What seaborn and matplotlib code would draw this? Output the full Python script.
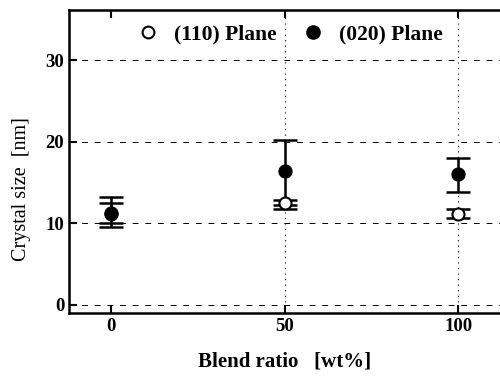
import matplotlib
matplotlib.use("Agg")
import matplotlib.pyplot as plt
import seaborn as sns
import pandas as pd
from matplotlib.lines import Line2D

blend = [0, 50, 100]
plane110 = [11.2, 12.5, 11.2]
plane110_lo = [10.0, 11.7, 10.6]
plane110_hi = [12.5, 12.9, 11.8]
plane020 = [11.3, 16.4, 16.0]
plane020_lo = [9.6, 12.2, 13.8]
plane020_hi = [13.2, 20.2, 18.0]
yticks = [0, 10, 20, 30]
xticks = [0, 50, 100]

sns.set_style("ticks")
plt.rcParams['font.family'] = ['Liberation Serif', 'DejaVu Serif']
for k in ["text.color", "axes.labelcolor", "xtick.color", "ytick.color", "axes.edgecolor"]:
    plt.rcParams[k] = "black"

fig = plt.figure(figsize=(5.0, 3.83), dpi=100)
ax = fig.add_axes([0.138, 0.183, 0.862, 0.791])

df = pd.DataFrame({"x": blend * 2,
                   "y": plane110 + plane020,
                   "s": ["(110) Plane"] * 3 + ["(020) Plane"] * 3})

for ys, lo, hi in [(plane020, plane020_lo, plane020_hi), (plane110, plane110_lo, plane110_hi)]:
    ax.errorbar(blend, ys,
                yerr=[[y - l for y, l in zip(ys, lo)], [h - y for y, h in zip(ys, hi)]],
                fmt="none", ecolor="black", elinewidth=1.8, capsize=8.5, capthick=1.8, zorder=2)

sns.scatterplot(data=df[df.s == "(020) Plane"], x="x", y="y", ax=ax, color="black",
                edgecolor="black", s=90, zorder=4, legend=False)
sns.scatterplot(data=df[df.s == "(110) Plane"], x="x", y="y", ax=ax, color="white",
                edgecolor="black", linewidth=1.5, s=75, zorder=3, legend=False)

ax.set_xlim(-12, 112)
ax.set_ylim(-1, 36.2)
ax.set_xticks(xticks)
ax.set_yticks(yticks)
ax.tick_params(direction="in", length=6, width=1.5, labelsize=13.5, top=True)
for lab in ax.get_xticklabels() + ax.get_yticklabels():
    lab.set_fontweight("bold")
for sp in ax.spines.values():
    sp.set_linewidth(1.8)
ax.spines["right"].set_visible(False)

for y in yticks:
    ax.axhline(y, color="black", lw=0.7, ls=(0, (6, 7)), zorder=1)
for x in [50, 100]:
    ax.axvline(x, color="black", lw=0.8, ls=(0, (1, 4)), zorder=1)

ax.set_xlabel("Blend ratio   [wt%]", fontsize=15, fontweight="bold", labelpad=12)
ax.set_ylabel("Crystal size  [nm]", fontsize=14.5)
ax.yaxis.set_label_coords(-0.088, 0.41)

h = [Line2D([], [], marker="o", ls="none", mfc="white", mec="black", mew=1.5, ms=8.5),
     Line2D([], [], marker="o", ls="none", mfc="black", mec="black", ms=9.5)]
leg = ax.legend(h, ["(110) Plane", "(020) Plane"], loc="upper center", ncol=2,
                frameon=False, bbox_to_anchor=(0.513, 1.015), handlelength=1.0,
                handletextpad=0.7, columnspacing=1.2,
                prop={"size": 15.5, "weight": "bold", "family": "Liberation Serif"})

fig.savefig("out.png", dpi=100)
